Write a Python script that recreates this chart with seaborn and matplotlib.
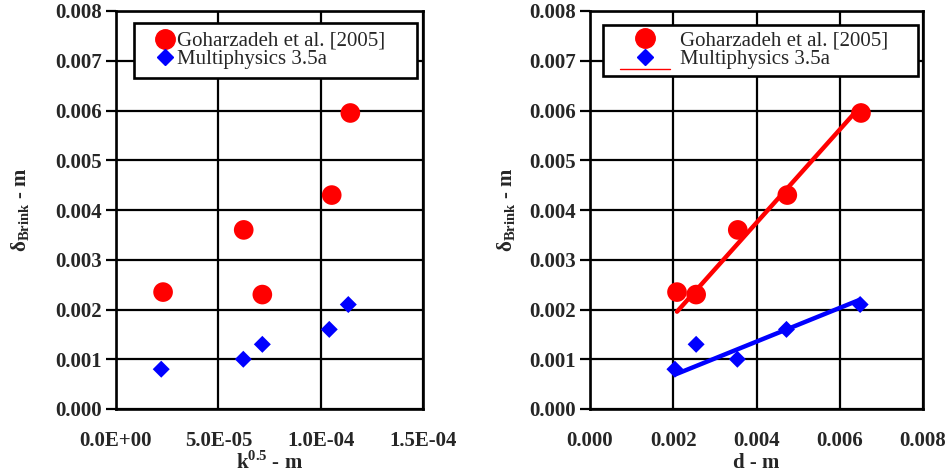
import numpy as np
import pandas as pd
import matplotlib
matplotlib.use("Agg")
import matplotlib.pyplot as plt
import seaborn as sns
from matplotlib.lines import Line2D
from matplotlib.legend_handler import HandlerLine2D, HandlerTuple

# ---- data ----
# left panel: k^0.5
k05_gohar = [2.30e-5, 6.24e-5, 7.15e-5, 1.054e-4, 1.145e-4]
delta_gohar_k = [0.00235, 0.0036, 0.0023, 0.0043, 0.00595]
k05_multi = [2.21e-5, 6.22e-5, 7.15e-5, 1.042e-4, 1.135e-4]
delta_multi_k = [0.0008, 0.0010, 0.0013, 0.0016, 0.0021]

# right panel: d
d_gohar = [0.00209, 0.00255, 0.00355, 0.00474, 0.00651]
delta_gohar_d = [0.00235, 0.0023, 0.0036, 0.0043, 0.00595]
d_multi = [0.00204, 0.00255, 0.00354, 0.00472, 0.00649]
delta_multi_d = [0.0008, 0.0013, 0.0010, 0.0016, 0.0021]

yticks = [0.000, 0.001, 0.002, 0.003, 0.004, 0.005, 0.006, 0.007, 0.008]
xticks_left = [0.0, 5.0e-5, 1.0e-4, 1.5e-4]
xticklabels_left = ["0.0E+00", "5.0E-05", "1.0E-04", "1.5E-04"]
xticks_right = [0.000, 0.002, 0.004, 0.006, 0.008]
xticklabels_right = ["0.000", "0.002", "0.004", "0.006", "0.008"]

lab_gohar = "Goharzadeh et al. [2005]"
lab_multi = "Multiphysics 3.5a"

sns.set_style("white")
plt.rcParams['font.family'] = ['Liberation Serif', 'DejaVu Serif']
plt.rcParams['mathtext.fontset'] = 'custom'
plt.rcParams['mathtext.rm'] = 'Liberation Serif'
plt.rcParams['mathtext.bf'] = 'Liberation Serif:bold'

RED = "#ff0000"
BLUE = "#0000ff"
TICKFS = 15
LABFS = 15
LEGFS = 15

fig = plt.figure(figsize=(9.49, 4.76), dpi=100)
ax1 = fig.add_axes([116/949, 1-409/476, (423-116)/949, (409-11)/476])
ax2 = fig.add_axes([590/949, 1-409/476, (923-590)/949, (409-11)/476])

df_l_g = pd.DataFrame({"x": k05_gohar, "y": delta_gohar_k})
df_l_m = pd.DataFrame({"x": k05_multi, "y": delta_multi_k})
df_r_g = pd.DataFrame({"x": d_gohar, "y": delta_gohar_d})
df_r_m = pd.DataFrame({"x": d_multi, "y": delta_multi_d})


def style_axes(ax, xticks, xticklabels, xlim):
    ax.set_xlim(*xlim)
    ax.set_ylim(0, 0.008)
    ax.set_xticks(xticks)
    ax.set_xticklabels(xticklabels, fontweight="bold", fontsize=TICKFS)
    ax.set_yticks(yticks)
    ax.set_yticklabels([f"{v:.3f}" for v in yticks], fontweight="bold", fontsize=TICKFS)
    ax.grid(True, color="black", linewidth=1.6)
    ax.set_axisbelow(True)
    for s in ax.spines.values():
        s.set_color("black")
        s.set_linewidth(1.9)
    ax.tick_params(axis="y", direction="out", length=7, width=1.6, color="black", pad=3, left=True)
    ax.tick_params(axis="x", length=0, pad=16)


def origin_fit(df):
    # least-squares line through the origin, spanning the data range
    x = df["x"].to_numpy()
    y = df["y"].to_numpy()
    slope = np.sum(x * y) / np.sum(x * x)
    xs = np.array([x.min(), x.max()])
    return pd.DataFrame({"x": xs, "y": slope * xs})


class LowLine(HandlerLine2D):
    """Legend line drawn below the row centre and slightly shortened."""
    def create_artists(self, legend, orig_handle, xdescent, ydescent,
                       width, height, fontsize, trans):
        shrink = 0.5 * fontsize
        return super().create_artists(legend, orig_handle, xdescent - shrink,
                                      ydescent + 1.6 * height, width - 2 * shrink,
                                      height, fontsize, trans)


# ---------------- left panel ----------------
sns.scatterplot(data=df_l_g, x="x", y="y", ax=ax1, color=RED, marker="o", s=200,
                edgecolor="none", zorder=3)
sns.scatterplot(data=df_l_m, x="x", y="y", ax=ax1, color=BLUE, marker="D", s=75,
                edgecolor="none", zorder=3)
style_axes(ax1, xticks_left, xticklabels_left, (0, 1.5e-4))
ax1.set_xlabel(r"k$^{\mathbf{0.5}}$ - m", fontweight="bold", fontsize=LABFS, labelpad=0)
ax1.set_ylabel(r"$\mathbf{\delta}_{\mathbf{Brink}}$ - m", fontweight="bold", fontsize=LABFS, labelpad=17)
h1 = [Line2D([], [], marker="o", color=RED, linestyle="none", markersize=14),
      Line2D([], [], marker="D", color=BLUE, linestyle="none", markersize=8)]
leg1 = ax1.legend(h1, [lab_gohar, lab_multi], loc="upper left",
                  bbox_to_anchor=(0.0586, 0.0, 0.922, 0.970), mode="expand",
                  frameon=True, fancybox=False, edgecolor="black", fontsize=LEGFS,
                  handletextpad=-0.55, borderpad=0.4, labelspacing=-0.05,
                  borderaxespad=0, handlelength=2.2)
leg1.get_frame().set_linewidth(1.9)
leg1.get_frame().set_alpha(1)

# ---------------- right panel ----------------
sns.scatterplot(data=df_r_g, x="x", y="y", ax=ax2, color=RED, marker="o", s=200,
                edgecolor="none", zorder=3)
sns.scatterplot(data=df_r_m, x="x", y="y", ax=ax2, color=BLUE, marker="D", s=75,
                edgecolor="none", zorder=3)
sns.lineplot(data=origin_fit(df_r_g), x="x", y="y", ax=ax2, color=RED, linewidth=3.2, zorder=4)
sns.lineplot(data=origin_fit(df_r_m), x="x", y="y", ax=ax2, color=BLUE, linewidth=3.2, zorder=4)
style_axes(ax2, xticks_right, xticklabels_right, (0, 0.008))
ax2.set_xlabel("d - m", fontweight="bold", fontsize=LABFS, labelpad=1)
ax2.set_ylabel(r"$\mathbf{\delta}_{\mathbf{Brink}}$ - m", fontweight="bold", fontsize=LABFS, labelpad=8)

red_leg_line = Line2D([], [], color=RED, linewidth=1.0)
h2 = [Line2D([], [], marker="o", color=RED, linestyle="none", markersize=14),
      (Line2D([], [], marker="D", color=BLUE, linestyle="none", markersize=8), red_leg_line)]
leg2 = ax2.legend(h2, [lab_gohar, lab_multi], loc="upper left",
                  bbox_to_anchor=(0.039, 0.0, 0.947, 0.965), mode="expand",
                  frameon=True, fancybox=False, edgecolor="black", fontsize=LEGFS,
                  handletextpad=0.0, borderpad=0.3, labelspacing=-0.05,
                  borderaxespad=0, handlelength=3.4,
                  handler_map={red_leg_line: LowLine(), tuple: HandlerTuple(ndivide=1)})
leg2.get_frame().set_linewidth(1.9)
leg2.get_frame().set_alpha(1)

fig.savefig("out.png", dpi=100, facecolor="white")
